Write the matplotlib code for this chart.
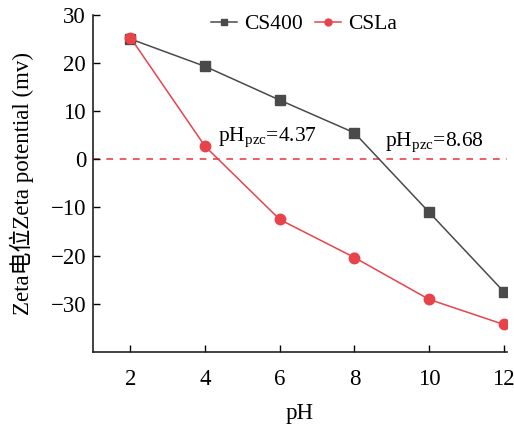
import matplotlib
matplotlib.use("Agg")
import matplotlib.pyplot as plt
from matplotlib.lines import Line2D

ph = [2, 4, 6, 8, 10, 12]
cs400 = [25.0, 19.3, 12.3, 5.5, -11.0, -27.5]
cs400_err = [0.3, 0.4, 0.3, 0.4, 0.4, 0.3]
csla = [25.3, 2.7, -12.5, -20.4, -29.1, -34.3]
csla_err = [0.4, 0.3, 0.4, 1.0, 0.5, 0.3]
xticks = [2, 4, 6, 8, 10, 12]
yticks = [-30, -20, -10, 0, 10, 20, 30]

plt.rcParams['font.family'] = ['Liberation Serif', 'Noto Sans CJK SC']
plt.rcParams['font.size'] = 16.5
plt.rcParams['mathtext.fontset'] = 'custom'
plt.rcParams['mathtext.rm'] = 'Liberation Serif'

gray = '#4a4a4a'
red = '#e8434b'
fs = 16.5
fs2 = 15.5

fig = plt.figure(figsize=(5.14, 4.25), dpi=100)
ax = fig.add_axes([0.181, 0.172, 0.805, 0.793])

ax.axhline(0, color=red, lw=1.2, ls=(0, (4, 4)), zorder=1)
ax.errorbar(ph, cs400, yerr=cs400_err, color=gray, marker='s', ms=7, lw=1.1,
            capsize=2, elinewidth=1, zorder=3)
ax.errorbar(ph, csla, yerr=csla_err, color=red, marker='o', ms=7.5, lw=1.1,
            capsize=2, elinewidth=1, zorder=4)

ax.text(4.35, 2.0, r'pH$_{\mathrm{pzc}}$=4.37', fontsize=fs2, va='bottom', ha='left')
ax.text(8.82, 0.8, r'pH$_{\mathrm{pzc}}$=8.68', fontsize=fs2, va='bottom', ha='left')

ax.set_xlim(1, 12.08)
ax.set_ylim(-40, 30)
ax.set_xticks(xticks)
ax.set_yticks(yticks)
ax.set_yticklabels([f'{v}'.replace('-', '\u2212') for v in yticks])
ax.tick_params(direction='in', length=5, width=1, labelsize=fs, pad=5)
ax.tick_params(axis='x', pad=12)
for s in ['top', 'right']:
    ax.spines[s].set_visible(False)
for s in ['left', 'bottom']:
    ax.spines[s].set_linewidth(1.2)
    ax.spines[s].set_color('#222222')

ax.set_xlabel('pH', fontsize=fs, labelpad=10)
ax.set_ylabel('Zeta电位Zeta potential (mv)', fontsize=fs, labelpad=12, fontweight='light')

handles = [Line2D([], [], color=gray, marker='s', ms=5, lw=1.1),
           Line2D([], [], color=red, marker='o', ms=5, lw=1.1)]
ax.legend(handles, ['CS400', 'CSLa'], loc='upper center', bbox_to_anchor=(0.51, 1.06),
          ncol=2, frameon=False, fontsize=fs2, handlelength=1.2, columnspacing=0.55,
          handletextpad=0.35)

fig.savefig('out.png', dpi=100)
